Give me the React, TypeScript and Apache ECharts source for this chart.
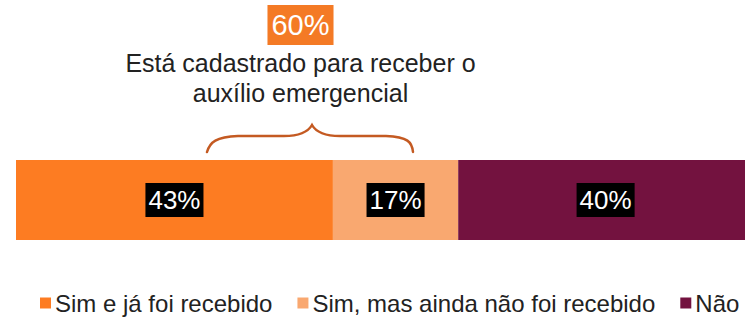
import React, { useEffect, useRef } from "react";
import * as echarts from "echarts";

const categories = ["Total"];
const seriesNames = ["Sim e já foi recebido", "Sim, mas ainda não foi recebido", "Não"];
const seriesValues = [43, 17, 40];
const seriesColors = ["#FD7C22", "#F9A870", "#73123F"];
const headlineText = "Está cadastrado para receber o\nauxílio emergencial";

const braceD =
  "M207 152 C210 142 216 137 238 136 L284 136 C300 136 308 132 312 125 C316 132 324 136 340 136 L386 136 C408 137 412 142 413 152";

let braceRegistered = false;

export default function App() {
  const ref = useRef<HTMLDivElement>(null);
  useEffect(() => {
    if (!ref.current) return;
    if (!braceRegistered) {
      echarts.graphic.registerShape("brace", echarts.graphic.extendPath(braceD, {}) as any);
      braceRegistered = true;
    }
    const chart = echarts.init(ref.current, null, { renderer: "svg" });
    const registeredShare = seriesValues[0] + seriesValues[1];
    const font = "'Liberation Sans', Arial, sans-serif";
    chart.setOption({
      animation: false,
      textStyle: { fontFamily: font },
      grid: { left: 16, width: 737, top: 160, height: 80, outerBoundsMode: "none", containLabel: false },
      xAxis: { type: "value", min: 0, max: 100, show: false },
      yAxis: { type: "category", data: categories, show: false },
      legend: {
        data: seriesNames,
        left: 40,
        top: 291,
        width: 720,
        padding: 0,
        icon: "rect",
        itemWidth: 11,
        itemHeight: 11,
        itemGap: 25,
        textStyle: { fontSize: 24, color: "#222", fontFamily: font, lineHeight: 24, padding: [0, 0, 0, -1] },
      },
      series: seriesNames.map((name, i) => ({
        name,
        type: "bar",
        stack: "total",
        barWidth: 80,
        data: [seriesValues[i]],
        itemStyle: { color: seriesColors[i] },
        label: {
          show: true,
          position: "inside",
          formatter: "{c}%",
          color: "#fff",
          fontSize: 26,
          fontFamily: font,
          backgroundColor: "#000",
          padding: [3, 3, 3, 3],
          lineHeight: 28,
        },
      })),
      graphic: [
        {
          type: "text",
          x: 300.5,
          y: 25,
          style: {
            text: registeredShare + "%",
            fill: "#fff",
            fontSize: 29,
            fontFamily: font,
            backgroundColor: "#F47A25",
            padding: [3, 4, 3, 4],
            lineHeight: 34,
            align: "center",
            verticalAlign: "middle",
          },
        },
        {
          type: "text",
          x: 300.5,
          y: 78,
          style: {
            text: headlineText,
            fill: "#222",
            fontSize: 25,
            fontFamily: font,
            lineHeight: 30,
            align: "center",
            verticalAlign: "middle",
          },
        },
        {
          type: "brace",
          x: 0,
          y: 0,
          style: { stroke: "#C45A22", fill: "none", lineWidth: 2.5, lineCap: "round" },
        },
      ],
    });
    return () => chart.dispose();
  }, []);
  return (
    <div
      ref={ref}
      style={{ position: "fixed", left: 0, top: 0, width: 745, height: 318, background: "#fff" }}
    />
  );
}
